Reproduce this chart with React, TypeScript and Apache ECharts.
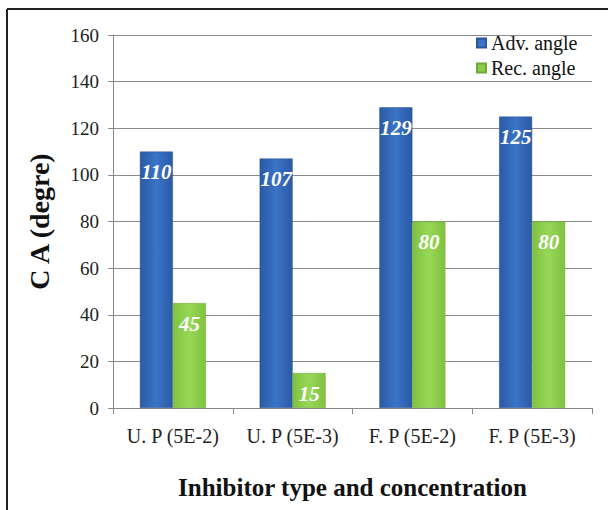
import React, { useEffect, useRef } from "react";
import * as echarts from "echarts";

const categories = ["U. P (5E-2)", "U. P (5E-3)", "F. P (5E-2)", "F. P (5E-3)"];
const advAngle = [110, 107, 129, 125];
const recAngle = [45, 15, 80, 80];
const seriesNames = ["Adv. angle", "Rec. angle"];

const FONT = "'Liberation Serif', 'Times New Roman', serif";

const blueGrad = new echarts.graphic.LinearGradient(0, 0, 1, 0, [
  { offset: 0, color: "#2b5aa3" },
  { offset: 0.5, color: "#3a74c8" },
  { offset: 1, color: "#2b5aa3" },
]);
const greenGrad = new echarts.graphic.LinearGradient(0, 0, 1, 0, [
  { offset: 0, color: "#7fc23e" },
  { offset: 0.5, color: "#98d658" },
  { offset: 1, color: "#7fc23e" },
]);

const labelStyle = {
  show: true,
  position: "insideTop" as const,
  distance: 10,
  color: "#ffffff",
  fontFamily: FONT,
  fontWeight: "bold" as const,
  fontStyle: "italic" as const,
  fontSize: 21,
};

export default function App() {
  const ref = useRef<HTMLDivElement>(null);
  useEffect(() => {
    if (!ref.current) return;
    const chart = echarts.init(ref.current, null, { renderer: "svg" });
    chart.setOption({
      animation: false,
      backgroundColor: "#ffffff",
      textStyle: { fontFamily: FONT },
      grid: { left: 113, right: 16, top: 35, bottom: 102, outerBoundsMode: "none", containLabel: false },
      legend: {
        orient: "vertical",
        left: 476,
        top: 33,
        padding: 0,
        itemWidth: 9,
        itemHeight: 9,
        itemGap: 5,
        icon: "rect",
        textStyle: { fontFamily: FONT, fontSize: 20, color: "#111" },
        data: [
          { name: seriesNames[0], itemStyle: { color: "#3a74c8" } },
          { name: seriesNames[1], itemStyle: { color: "#8ccc4a" } },
        ],
      },
      xAxis: {
        type: "category",
        data: categories,
        name: "Inhibitor type and concentration",
        nameLocation: "middle",
        nameGap: 67,
        nameTextStyle: { fontFamily: FONT, fontSize: 25, fontWeight: "bold", color: "#111" },
        axisLine: { lineStyle: { color: "#888", width: 1 } },
        axisTick: { show: true, length: 6, lineStyle: { color: "#888" } },
        axisLabel: { interval: 0, hideOverlap: false, fontFamily: FONT, fontSize: 20, color: "#222", margin: 18 },
      },
      yAxis: {
        type: "value",
        min: 0,
        max: 160,
        interval: 20,
        name: "C A (degre)",
        nameLocation: "middle",
        nameGap: 60,
        nameRotate: 90,
        nameTextStyle: { fontFamily: FONT, fontSize: 28, fontWeight: "bold", color: "#111" },
        axisLine: { show: true, lineStyle: { color: "#888", width: 1 } },
        axisTick: { show: true, length: 5, lineStyle: { color: "#888" } },
        axisLabel: { fontFamily: FONT, fontSize: 19, color: "#222", margin: 14 },
        splitLine: { lineStyle: { color: "#8a8a8a", width: 1 } },
      },
      series: [
        {
          name: seriesNames[0],
          type: "bar",
          data: advAngle,
          barWidth: 33,
          barGap: "0%",
          itemStyle: { color: blueGrad, borderColor: "#2a5596", borderWidth: 0.5 },
          label: labelStyle,
        },
        {
          name: seriesNames[1],
          type: "bar",
          data: recAngle,
          barWidth: 33,
          barGap: "0%",
          itemStyle: { color: greenGrad, borderColor: "#6fa834", borderWidth: 0.5 },
          label: labelStyle,
        },
      ],
      graphic: [
        { type: "line", shape: { x1: 7, y1: 9, x2: 608, y2: 9 }, style: { stroke: "#222", lineWidth: 2 } },
        { type: "line", shape: { x1: 7, y1: 9, x2: 7, y2: 510 }, style: { stroke: "#222", lineWidth: 2 } },
      ],
    });
    return () => chart.dispose();
  }, []);
  return (
    <div
      ref={ref}
      style={{ position: "fixed", left: 0, top: 0, width: 608, height: 510 }}
    />
  );
}
